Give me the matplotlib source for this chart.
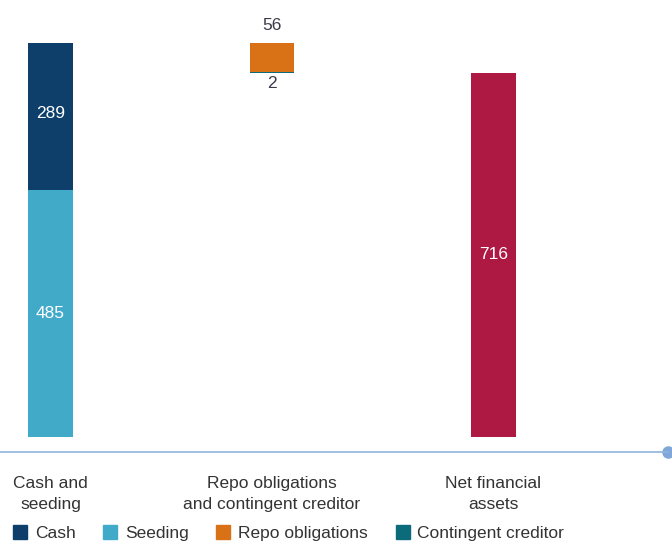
import matplotlib
matplotlib.use("Agg")
import matplotlib.pyplot as plt
from matplotlib.patches import Patch

plt.rcParams['font.family'] = ['Liberation Sans', 'DejaVu Sans']

# ------------------------------------------------------------------------------
# Data
# ------------------------------------------------------------------------------
categories = ["Cash and\nseeding", "Repo obligations\nand contingent creditor",
              "Net financial\nassets"]
cash = 289
seeding = 485
repo = 56
contingent = 2
net_assets = 716

legend_names = ["Cash", "Seeding", "Repo obligations", "Contingent creditor"]
colors = {"Cash": "#0d3f6a", "Seeding": "#41aac9", "Repo obligations": "#d97117",
          "Contingent creditor": "#0b6b7b", "Net": "#ad1942"}

# ------------------------------------------------------------------------------
# Figure
# ------------------------------------------------------------------------------
fig = plt.figure(figsize=(6.72, 5.43), dpi=100)
ax = fig.add_axes([0.0, 91 / 543, 668 / 672, 442 / 543])

w = 0.203
total = cash + seeding
# bar 1 : cash and seeding
ax.bar(0, seeding, w, color=colors["Seeding"])
ax.bar(0, cash, w, bottom=seeding, color=colors["Cash"])
# bar 2 : deductions (floating)
ax.bar(1, repo, w, bottom=total - repo, color=colors["Repo obligations"])
ax.bar(1, contingent, w, bottom=total - repo - contingent,
       color=colors["Contingent creditor"])
# bar 3 : net
ax.bar(2, net_assets, w, color=colors["Net"])

txt = dict(ha="center", va="center", fontsize=12.5)
ax.text(0, seeding + cash / 2 + 6, str(cash), color="white", **txt)
ax.text(0, seeding / 2, str(seeding), color="white", **txt)
ax.text(2, net_assets / 2, str(net_assets), color="white", **txt)
ax.text(1, total + 35, str(repo), color="#3a3a4a", **txt)
ax.text(1, total - repo - contingent - 22, str(contingent), color="#3a3a4a", **txt)

ax.set_xlim(-0.228, 2.788)
ax.set_ylim(-29.5, 839)

for s in ["top", "right", "left"]:
    ax.spines[s].set_visible(False)
ax.spines["bottom"].set_color("#8fb4dd")
ax.spines["bottom"].set_linewidth(1.2)
ax.plot([2.788], [-29.5], "o", color="#7fa8d8", markersize=8, clip_on=False)

ax.set_yticks([])
ax.set_xticks([0, 1, 2])
ax.set_xticklabels(categories, fontsize=12.5, color="#333333", linespacing=1.5)
ax.tick_params(axis="x", length=0, pad=17)

handles = [Patch(color=colors[n]) for n in legend_names]
fig.legend(handles, legend_names, loc="lower left", bbox_to_anchor=(-0.004, -0.025),
           ncol=4, frameon=False, fontsize=12.5, handlelength=0.8,
           handleheight=0.8, handletextpad=0.45, columnspacing=1.6,
           labelcolor="#333333")

fig.savefig("out.png", dpi=100)
